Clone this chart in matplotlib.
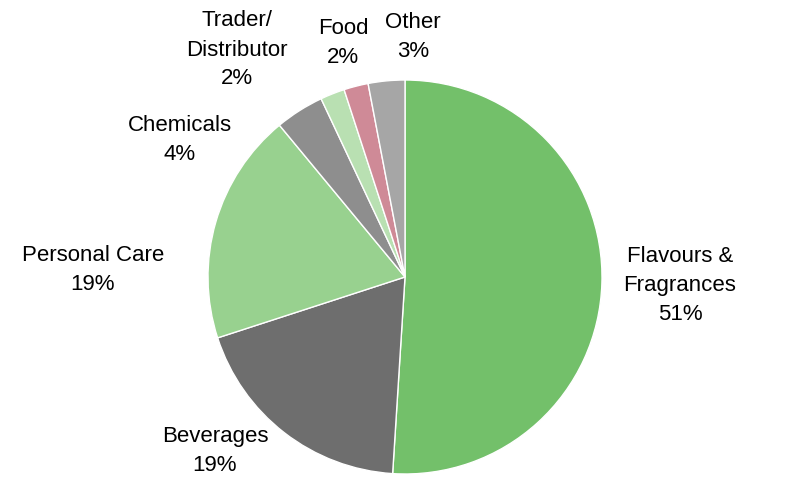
import matplotlib.pyplot as plt
from matplotlib import font_manager

# data
segments = ['Flavours &\nFragrances', 'Beverages', 'Personal Care', 'Chemicals',
            'Trader/\nDistributor', 'Food', 'Other']
shares = [51, 19, 19, 4, 2, 2, 3]
colors = ['#73C06A', '#6E6E6E', '#98D18F', '#8E8E8E', '#B9E0B2', '#CF8A97', '#A6A6A6']

# label centres in pixel coords (x, y from top)
label_pos = [(680, 286), (215, 451), (93, 270), (180, 140), (237, 50), (343, 43), (413, 37)]

names = {f.name for f in font_manager.fontManager.ttflist}
fam = 'Liberation Sans Narrow' if 'Liberation Sans Narrow' in names else 'Liberation Sans'
plt.rcParams['font.family'] = [fam, 'DejaVu Sans']

fig = plt.figure(figsize=(8, 4.84), dpi=100)
ax = fig.add_axes([0, 0, 1, 1])

ax.pie(shares, colors=colors, startangle=90, counterclock=False,
       center=(405, 484 - 277), radius=197, frame=True,
       wedgeprops=dict(edgecolor='white', linewidth=1))
ax.set_xlim(0, 800)
ax.set_ylim(0, 484)
ax.set_aspect('equal')
ax.axis('off')

for name, val, (x, y) in zip(segments, shares, label_pos):
    ax.text(x, 484 - y, f'{name}\n{val}%', ha='center', va='center',
            fontsize=16, linespacing=1.5, color='black')

fig.savefig('out.png', dpi=100)
